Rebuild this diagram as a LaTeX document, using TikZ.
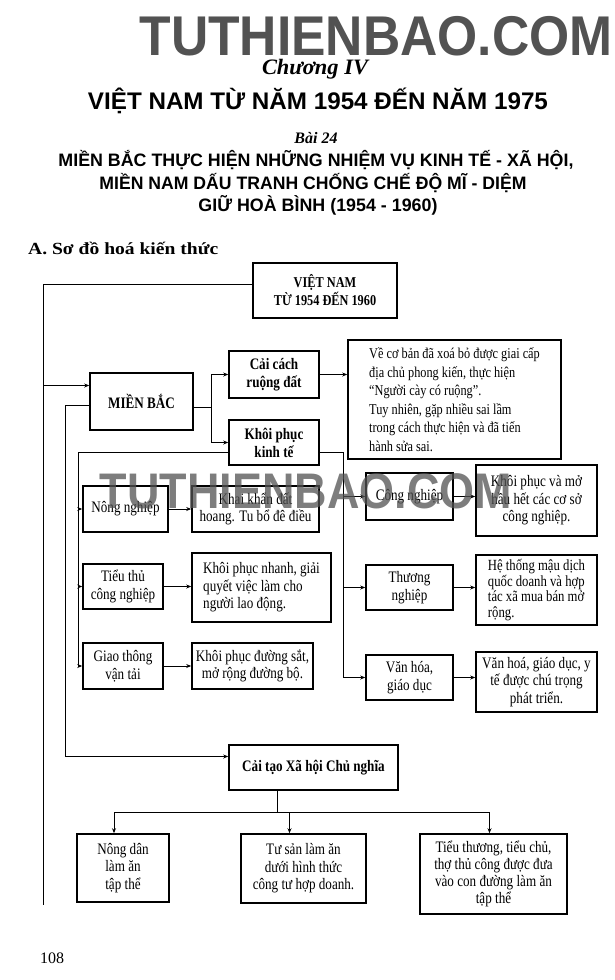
\documentclass[tikz,border=0pt]{standalone}
\usepackage{fontspec}
\usepackage{graphicx}
\setmainfont{Liberation Serif}
\newfontfamily\headfont{Liberation Sans}
\newfontfamily\boxfont[FakeStretch=0.82]{Liberation Serif}
\usetikzlibrary{arrows.meta}
\definecolor{markgray}{RGB}{82,82,82}

\tikzset{
  box/.style={draw, line width=1.6pt, align=center, inner sep=2pt, font=\boxfont\fontsize{16}{17.5}\selectfont},
  boldbox/.style={box, font=\boxfont\fontsize{16}{18}\selectfont\bfseries},
  link/.style={line width=0.8pt},
  arr/.style={link, -{Stealth[length=5pt,width=4pt]}},
  title/.style={inner sep=0pt, font=\headfont\bfseries\fontsize{18}{18}\selectfont}
}

\begin{document}
\begin{tikzpicture}[x=1pt, y=-1pt]
\useasboundingbox (0,0) rectangle (615,980);
\fill[white] (0,0) rectangle (615,980);

% headings
\node[inner sep=0pt, text=markgray, font=\headfont\bfseries\fontsize{56}{56}\selectfont] (mark) at (376,36) {\resizebox{473pt}{\height}{TUTHIENBAO.COM}};
\node[inner sep=0pt, font=\itshape\bfseries\fontsize{22}{22}\selectfont] (chuong) at (315,69) {\resizebox{106pt}{\height}{Chương IV}};
\node[inner sep=0pt, font=\headfont\bfseries\fontsize{24}{24}\selectfont] (chapter) at (318,101) {\resizebox{460pt}{\height}{VIỆT NAM TỪ NĂM 1954 ĐẾN NĂM 1975}};
\node[inner sep=0pt, font=\itshape\bfseries\fontsize{16}{16}\selectfont] (bai) at (316,138) {Bài 24};
\node[title] (line1) at (316,160) {\resizebox{515pt}{\height}{MIỀN BẮC THỰC HIỆN NHỮNG NHIỆM VỤ KINH TẾ - XÃ HỘI,}};
\node[title] (line2) at (313,183) {\resizebox{427pt}{\height}{MIỀN NAM DẤU TRANH CHỐNG CHẾ ĐỘ MĨ - DIỆM}};
\node[title] (line3) at (318,205) {\resizebox{239pt}{\height}{GIỮ HOÀ BÌNH (1954 - 1960)}};
\node[anchor=west, inner sep=0pt, font=\bfseries\fontsize{17}{17}\selectfont] (secA) at (28,248) {\resizebox{190pt}{\height}{A. Sơ đồ hoá kiến thức}};

% boxes
\node[boldbox, minimum width=144pt, minimum height=55pt, font=\boxfont\fontsize{15}{18}\selectfont\bfseries] (vietnam) at (325,290.5) {VIỆT NAM\\TỪ 1954 ĐẾN 1960};
\node[boldbox, minimum width=103pt, minimum height=57pt] (mienbac) at (141.5,401.5) {MIỀN BẮC};
\node[boldbox, minimum width=90pt, minimum height=47pt] (caicach) at (274,374.5) {Cải cách\\ruộng đất};
\node[boldbox, minimum width=90pt, minimum height=45pt] (khoiphuc) at (274,442.5) {Khôi phục\\kinh tế};
\node[box, align=left, minimum width=213pt, minimum height=119pt, font=\boxfont\fontsize{15}{18.5}\selectfont] (ketqua) at (454.5,399.5)
  {Về cơ bản đã xoá bỏ được giai cấp\\địa chủ phong kiến, thực hiện\\“Người cày có ruộng”.\\Tuy nhiên, gặp nhiều sai lầm\\trong cách thực hiện và đã tiến\\hành sửa sai.};

\node[box, minimum width=85pt, minimum height=46pt] (nongnghiep) at (125.5,509) {Nông nghiệp};
\node[box, minimum width=127pt, minimum height=46pt] (nongnghiepkq) at (255.5,509) {Khai khẩn đất\\hoang. Tu bổ đê điều};
\node[box, minimum width=80pt, minimum height=45pt] (tieuthu) at (123,586.5) {Tiểu thủ\\công nghiệp};
\node[box, align=left, minimum width=139pt, minimum height=69pt] (tieuthukq) at (261.5,587.5) {Khôi phục nhanh, giải\\quyết việc làm cho\\người lao động.};
\node[box, minimum width=80pt, minimum height=46pt] (giaothong) at (123,666) {Giao thông\\vận tải};
\node[box, minimum width=121pt, minimum height=46pt] (giaothongkq) at (252.5,666) {Khôi phục đường sắt,\\mở rộng đường bộ.};

\node[box, minimum width=87pt, minimum height=47pt] (congnghiep) at (409.5,496.5) {Công nghiệp};
\node[box, minimum width=121pt, minimum height=71pt] (congnghiepkq) at (536.5,500.5) {Khôi phục và mở\\hầu hết các cơ sở\\công nghiệp.};
\node[box, minimum width=87pt, minimum height=45pt] (thuongnghiep) at (409.5,587.5) {Thương\\nghiệp};
\node[box, align=left, minimum width=121pt, minimum height=70pt, font=\boxfont\fontsize{15.5}{15.5}\selectfont] (thuongnghiepkq) at (536.5,590) {Hệ thống mậu dịch\\quốc doanh và hợp\\tác xã mua bán mở\\rộng.};
\node[box, minimum width=87pt, minimum height=45pt] (vanhoa) at (409.5,677.5) {Văn hóa,\\giáo dục};
\node[box, minimum width=121pt, minimum height=60pt] (vanhoakq) at (536.5,682) {Văn hoá, giáo dục, y\\tế được chú trọng\\phát triển.};

\node[boldbox, minimum width=169pt, minimum height=45pt] (caitao) at (313.5,767.5) {Cải tạo Xã hội Chủ nghĩa};
\node[box, minimum width=92pt, minimum height=68pt] (nongdan) at (123,868) {Nông dân\\làm ăn\\tập thể};
\node[box, minimum width=125pt, minimum height=69pt] (tusan) at (303.5,868.5) {Tư sản làm ăn\\dưới hình thức\\công tư hợp doanh.};
\node[box, minimum width=147pt, minimum height=80pt, font=\boxfont\fontsize{16}{17}\selectfont] (tieuthuong) at (493.5,874) {Tiểu thương, tiểu chủ,\\thợ thủ công được đưa\\vào con đường làm ăn\\tập thể};

% connectors
\coordinate (leftend) at (43,905);
\coordinate (mbin) at ([yshift=16pt]mienbac.west);
\coordinate (mbout) at ([yshift=-4pt]mienbac.west);
\coordinate (mbr) at ([yshift=-6pt]mienbac.east);
\coordinate (ctin) at ([yshift=11pt]caitao.west);
\coordinate (kpl) at ([yshift=-10pt]khoiphuc.west);
\coordinate (kpr) at ([yshift=-10pt]khoiphuc.east);
\coordinate (ctdown) at ([xshift=-36pt]caitao.south);
\coordinate (bus) at ([yshift=-22pt]ctdown);

\draw[link] ([yshift=6pt]vietnam.west) -| (leftend);
\draw[arr] (mbin -| leftend) -- (mbin);
\draw[arr] (mbout) -- ++(-24,0) |- (ctin);
\draw[arr] (mbr) -- ++(18,0) |- (caicach.west);
\draw[arr] (mbr) -- ++(18,0) |- (khoiphuc.west);
\draw[arr] (caicach.east) -- (caicach.east -| ketqua.west);

\foreach \n in {nongnghiep, tieuthu, giaothong}
  \draw[arr] (kpl) -- ++(-150,0) |- (\n.west);
\foreach \n in {congnghiep, thuongnghiep, vanhoa}
  \draw[arr] (kpr) -- ++(24,0) |- (\n.west);
\foreach \n in {nongnghiep, tieuthu, giaothong, congnghiep, thuongnghiep, vanhoa}
  \draw[arr] (\n.east) -- (\n.east -| \n kq.west);

\draw[link] (ctdown) -- (bus);
\draw[arr] (bus) -| ([xshift=-9pt]nongdan.north);
\draw[arr] (bus) -| ([xshift=-14pt]tusan.north);
\draw[arr] (bus) -| ([xshift=-4pt]tieuthuong.north);

% watermark and page number
\node[inner sep=0pt, text=markgray, opacity=0.75, font=\headfont\bfseries\fontsize{50}{50}\selectfont] (mark2) at (306,491) {\resizebox{412pt}{\height}{TUTHIENBAO.COM}};
\node[anchor=west, inner sep=0pt, font=\fontsize{16}{16}\selectfont] (page) at (40,958) {108};
\end{tikzpicture}
\end{document}
